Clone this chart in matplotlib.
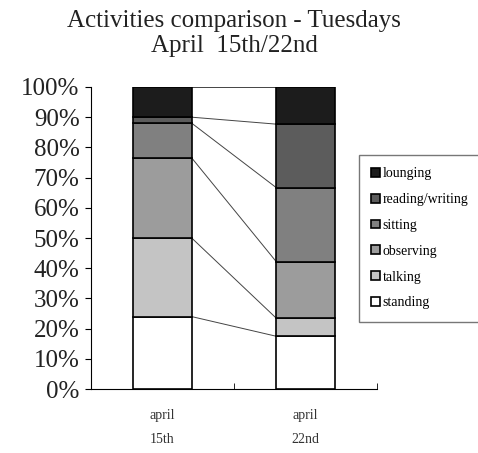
import matplotlib.pyplot as plt
import numpy as np

# Dados
dates = ['april\n15th', 'april\n22nd']
activities = ['standing', 'talking', 'observing', 'sitting', 'reading/writing', 'lounging']
standing = [24.0, 17.5]
talking = [26.0, 6.0]
observing = [26.5, 18.7]
sitting = [11.5, 24.5]
reading_writing = [2.0, 21.0]
lounging = [10.0, 12.3]

series = [standing, talking, observing, sitting, reading_writing, lounging]
colors = ['#ffffff', '#c4c4c4', '#9c9c9c', '#808080', '#5c5c5c', '#1c1c1c']

plt.rcParams['font.family'] = ['Liberation Serif', 'DejaVu Serif']

fig = plt.figure(figsize=(4.78, 4.53), dpi=100)
ax = fig.add_axes([0.190, 0.141, 0.599, 0.667])

x = np.arange(len(dates))
width = 0.41
bottom = np.zeros(len(dates))
tops = []
for vals, cor, nome in zip(series, colors, activities):
    ax.bar(x, vals, width, bottom=bottom, color=cor, edgecolor='black',
           linewidth=1.2, label=nome, zorder=3)
    bottom = bottom + np.array(vals)
    tops.append(bottom.copy())

# linhas de ligacao entre as barras
for t in tops:
    ax.plot([x[0] + width / 2, x[1] - width / 2], [t[0], t[1]],
            color='#444444', linewidth=0.7, zorder=2)

ax.set_xlim(-0.5, 1.5)
ax.set_ylim(0, 100)
ax.set_yticks(np.arange(0, 101, 10))
ax.set_yticklabels([f'{v}%' for v in range(0, 101, 10)], fontsize=18,
                   color='#222222')
ax.set_xticks(x)
ax.set_xticklabels(dates, fontsize=10, color='#333333', linespacing=2.1)
ax.set_xticks([0.5, 1.5], minor=True)
ax.tick_params(axis='x', which='major', length=0, pad=14)
ax.tick_params(axis='x', which='minor', length=4, direction='in')
ax.tick_params(axis='y', length=4, width=0.8, pad=4)
ax.spines['top'].set_visible(False)
ax.spines['right'].set_visible(False)
ax.spines['left'].set_linewidth(0.8)
ax.spines['bottom'].set_linewidth(0.8)

handles, labels = ax.get_legend_handles_labels()
fig.legend(handles[::-1], labels[::-1], loc='upper left',
           bbox_to_anchor=(0.751, 0.658), fontsize=10,
           frameon=True, fancybox=False, edgecolor='#555555',
           handlelength=0.6, handleheight=0.6, handletextpad=0.2,
           labelspacing=0.92, borderpad=0.9, borderaxespad=0)

fig.suptitle('Activities comparison - Tuesdays\nApril  15th/22nd',
             fontsize=18, x=0.49, y=0.978, linespacing=1.15,
             color='#222222')

plt.savefig('out.png', dpi=100)
